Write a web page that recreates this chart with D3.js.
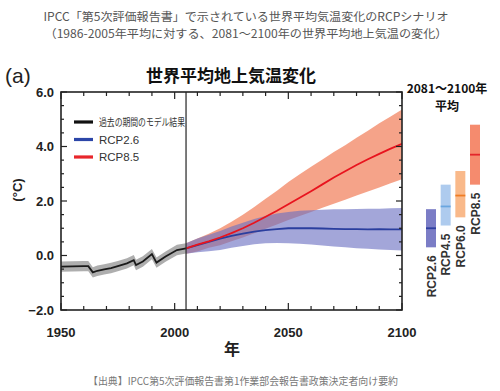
<!DOCTYPE html>
<html><head><meta charset="utf-8">
<script src="https://cdn.jsdelivr.net/npm/d3@7"></script>
<style>body{margin:0;background:#fff}svg{display:block}</style>
</head><body><svg id="c" width="500" height="391"></svg>
<script>
// ---- data ----
const histYears = [1950,1955,1960,1962,1964,1966,1969,1972,1975,1979,1982,1983,1986,1990,1992,1996,2001,2005];
const histMean  = [-0.41,-0.40,-0.39,-0.39,-0.62,-0.56,-0.51,-0.46,-0.39,-0.29,-0.17,-0.35,-0.22,0.05,-0.26,-0.04,0.20,0.26];
const histSpread = 0.19;

const projYears = [2005,2010,2015,2020,2025,2030,2035,2040,2045,2050,2055,2060,2065,2070,2075,2080,2085,2090,2095,2100];
const rcp85Mean  = [0.26,0.40,0.52,0.66,0.82,1.00,1.20,1.42,1.64,1.88,2.12,2.36,2.61,2.86,3.09,3.32,3.53,3.73,3.92,4.10];
const rcp85Upper = [0.45,0.62,0.80,1.00,1.24,1.50,1.78,2.08,2.38,2.70,2.98,3.26,3.52,3.80,4.05,4.32,4.58,4.85,5.10,5.36];
const rcp85Lower = [0.06,0.15,0.28,0.38,0.52,0.66,0.82,0.98,1.14,1.30,1.45,1.60,1.75,1.90,2.05,2.20,2.35,2.50,2.65,2.80];
const rcp26Mean  = [0.26,0.38,0.50,0.62,0.72,0.80,0.88,0.93,0.97,1.00,1.00,1.00,0.99,0.98,0.97,0.97,0.96,0.97,0.96,0.96];
const rcp26Upper = [0.45,0.62,0.76,0.90,1.06,1.20,1.34,1.45,1.54,1.60,1.64,1.66,1.68,1.70,1.70,1.71,1.72,1.72,1.73,1.74];
const rcp26Lower = [0.06,0.12,0.16,0.20,0.28,0.35,0.41,0.45,0.46,0.45,0.43,0.40,0.37,0.33,0.30,0.27,0.25,0.22,0.20,0.18];

const barNames = ["RCP2.6","RCP4.5","RCP6.0","RCP8.5"];
const barMean  = [1.0,1.8,2.2,3.7];
const barLow   = [0.3,1.1,1.4,2.6];
const barHigh  = [1.7,2.6,3.1,4.8];
const barFill  = ["#7b7dc6","#aecbee","#f9b98a","#f58b6e"];
const barLine  = ["#2e3fa0","#6aa6df","#ef7d24","#e3262b"];

const xTickLabels = [1950,2000,2050,2100];
const yTickLabels = [6,4,2,0,-2];
const legendNames = ["過去の期間のモデル結果","RCP2.6","RCP8.5"];
const legendColors = ["#111","#2c46a8","#e8262b"];

// ---- layout ----
const svg = d3.select("#c");
const L=61, R=402, T=92, B=310;
const x = d3.scaleLinear().domain([1950,2100]).range([L,R]);
const y = d3.scaleLinear().domain([-2,6]).range([B,T]);

// header texts
svg.append("text").attr("x",246).attr("y",21).attr("text-anchor","middle")
  .attr("font-family","Noto Sans CJK JP").attr("font-size",11.5).attr("fill","#555")
  .attr("textLength",405).attr("lengthAdjust","spacingAndGlyphs")
  .text("IPCC「第5次評価報告書」で示されている世界平均気温変化のRCPシナリオ");
svg.append("text").attr("x",246).attr("y",38).attr("text-anchor","middle")
  .attr("font-family","Noto Sans CJK JP").attr("font-size",11.5).attr("fill","#555")
  .attr("textLength",403).attr("lengthAdjust","spacingAndGlyphs")
  .text("（1986-2005年平均に対する、2081～2100年の世界平均地上気温の変化）");
svg.append("text").attr("x",5).attr("y",83)
  .attr("font-family","Liberation Sans").attr("font-size",21).attr("fill","#222").text("(a)");
svg.append("text").attr("x",231).attr("y",82).attr("text-anchor","middle")
  .attr("font-family","Noto Sans CJK JP").attr("font-weight","bold").attr("font-size",17).attr("fill","#111")
  .text("世界平均地上気温変化");

const g = svg.append("g");
svg.append("clipPath").attr("id","pc").append("rect")
  .attr("x",L).attr("y",T).attr("width",R-L).attr("height",B-T);
const pg = g.append("g").attr("clip-path","url(#pc)");

// historical band
const hist = histYears.map((d,i)=>({yr:d,m:histMean[i]}));
pg.append("path").datum(hist)
  .attr("d",d3.area().x(d=>x(d.yr)).y0(d=>y(d.m-histSpread)).y1(d=>y(d.m+histSpread)))
  .attr("fill","#9a9a9a").attr("opacity",0.8);

const proj = projYears.map((d,i)=>({yr:d,m85:rcp85Mean[i],u85:rcp85Upper[i],l85:rcp85Lower[i],m26:rcp26Mean[i],u26:rcp26Upper[i],l26:rcp26Lower[i]}));
pg.append("path").datum(proj)
  .attr("d",d3.area().x(d=>x(d.yr)).y0(d=>y(d.l85)).y1(d=>y(d.u85)))
  .attr("fill","#f28462").attr("opacity",0.75);
pg.append("path").datum(proj)
  .attr("d",d3.area().x(d=>x(d.yr)).y0(d=>y(d.l26)).y1(d=>y(d.u26)))
  .attr("fill","#6b6fc2").attr("opacity",0.62);

pg.append("path").datum(hist)
  .attr("d",d3.line().x(d=>x(d.yr)).y(d=>y(d.m)))
  .attr("fill","none").attr("stroke","#1a1a1a").attr("stroke-width",1.8);
pg.append("path").datum(proj)
  .attr("d",d3.line().x(d=>x(d.yr)).y(d=>y(d.m26)))
  .attr("fill","none").attr("stroke","#2a3e9e").attr("stroke-width",1.8);
pg.append("path").datum(proj)
  .attr("d",d3.line().x(d=>x(d.yr)).y(d=>y(d.m85)))
  .attr("fill","none").attr("stroke","#e8141e").attr("stroke-width",1.8);

// vertical line at 2005
g.append("line").attr("x1",x(2005)).attr("x2",x(2005)).attr("y1",T).attr("y2",B)
  .attr("stroke","#333").attr("stroke-width",1.3);

// ticks (inward, all sides)
const xt = d3.range(1950,2101,10);
const yt = d3.range(-2,6.01,0.5);
const tk = g.append("g").attr("stroke","#222").attr("stroke-width",1.2);
xt.forEach(v=>{
  const len = v%50===0?7:4;
  tk.append("line").attr("x1",x(v)).attr("x2",x(v)).attr("y1",B).attr("y2",B-len);
  tk.append("line").attr("x1",x(v)).attr("x2",x(v)).attr("y1",T).attr("y2",T+len);
});
yt.forEach(v=>{
  const len = Math.abs(v%2)<1e-6?6:3;
  tk.append("line").attr("x1",L).attr("x2",L+len).attr("y1",y(v)).attr("y2",y(v));
  tk.append("line").attr("x1",R).attr("x2",R-len).attr("y1",y(v)).attr("y2",y(v));
});
g.append("rect").attr("x",L).attr("y",T).attr("width",R-L).attr("height",B-T)
  .attr("fill","none").attr("stroke","#222").attr("stroke-width",1.6);

// tick labels
g.selectAll(".xl").data(xTickLabels).join("text")
  .attr("x",d=>x(d)).attr("y",337).attr("text-anchor","middle")
  .attr("font-family","Liberation Sans Narrow, Liberation Sans").attr("font-weight","bold").attr("font-size",13).attr("fill","#222")
  .text(d=>d);
g.selectAll(".yl").data(yTickLabels).join("text")
  .attr("x",54).attr("y",d=>y(d)+4.5).attr("text-anchor","end")
  .attr("font-family","Liberation Sans Narrow, Liberation Sans").attr("font-weight","bold").attr("font-size",13).attr("fill","#222")
  .text(d=>d3.format(".1f")(d));

g.append("text").attr("transform","translate(22,190) rotate(-90)").attr("text-anchor","middle")
  .attr("font-family","Liberation Sans").attr("font-weight","bold").attr("font-size",13).attr("fill","#222").text("(°C)");
g.append("text").attr("x",232).attr("y",355).attr("text-anchor","middle")
  .attr("font-family","Noto Sans CJK JP").attr("font-weight","bold").attr("font-size",16).attr("fill","#222").text("年");

// legend
legendNames.forEach((n,i)=>{
  const ly = 122 + i*17.5;
  g.append("line").attr("x1",74).attr("x2",93).attr("y1",ly).attr("y2",ly)
    .attr("stroke",legendColors[i]).attr("stroke-width",3.2);
  const t = g.append("text").attr("x",99).attr("y",ly+4)
    .attr("font-family", i===0?"Noto Sans CJK JP":"Liberation Sans").attr("font-size",i===0?10:11.5).attr("fill","#333").text(n);
  if(i===0) t.attr("textLength",86).attr("lengthAdjust","spacingAndGlyphs");
});

// right panel
svg.append("text").attr("x",447).attr("y",93).attr("text-anchor","middle")
  .attr("font-family","Noto Sans CJK JP").attr("font-weight","bold").attr("font-size",12).attr("fill","#111").text("2081～2100年");
svg.append("text").attr("x",447).attr("y",111).attr("text-anchor","middle")
  .attr("font-family","Noto Sans CJK JP").attr("font-weight","bold").attr("font-size",12).attr("fill","#111").text("平均");
const bx = d3.scalePoint().domain(barNames).range([431,475]);
const bw = 10;
barNames.forEach((n,i)=>{
  svg.append("rect").attr("x",bx(n)-bw/2).attr("y",y(barHigh[i])).attr("width",bw)
    .attr("height",y(barLow[i])-y(barHigh[i])).attr("fill",barFill[i]);
  svg.append("line").attr("x1",bx(n)-bw/2).attr("x2",bx(n)+bw/2).attr("y1",y(barMean[i])).attr("y2",y(barMean[i]))
    .attr("stroke",barLine[i]).attr("stroke-width",1.8);
  svg.append("text").attr("transform",`translate(${bx(n)+4.5},${y(barLow[i])+8}) rotate(-90)`)
    .attr("text-anchor","end").attr("font-family","Liberation Sans").attr("font-weight","bold").attr("font-size",12).attr("fill","#333").text(n);
});

svg.append("text").attr("x",243).attr("y",385).attr("text-anchor","middle")
  .attr("font-family","Noto Sans CJK JP").attr("font-size",10).attr("fill","#777")
  .attr("textLength",310).attr("lengthAdjust","spacingAndGlyphs")
  .text("【出典】IPCC第5次評価報告書第1作業部会報告書政策決定者向け要約");
</script></body></html>
